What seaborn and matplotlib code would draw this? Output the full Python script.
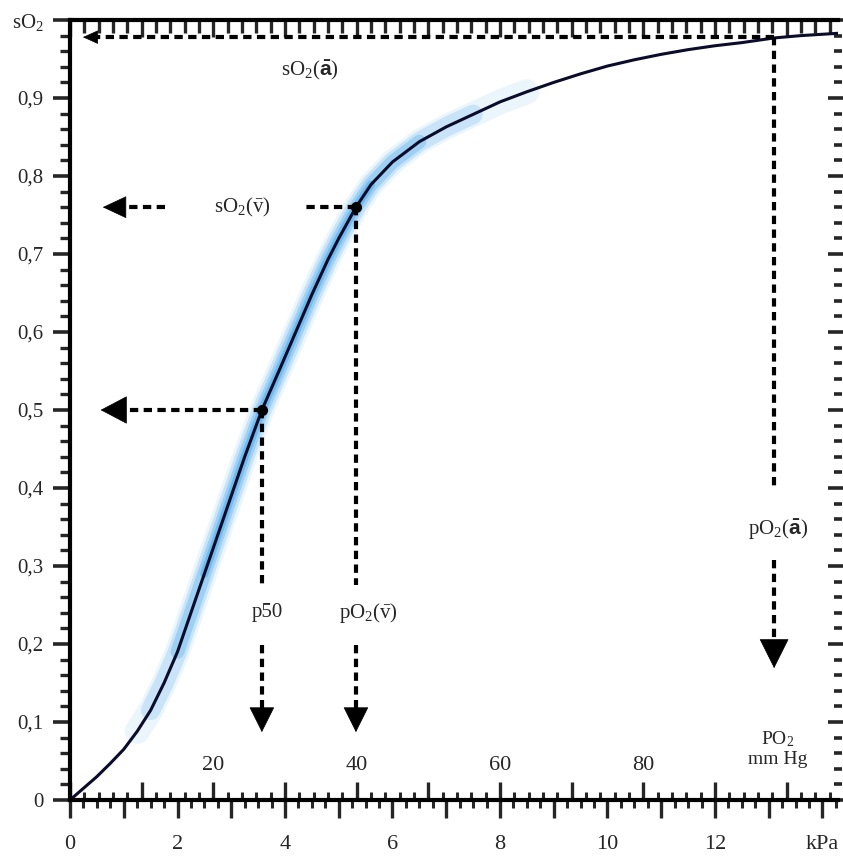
import numpy as np
import pandas as pd
import matplotlib
matplotlib.use("Agg")
import matplotlib.pyplot as plt
import seaborn as sns
from matplotlib.ticker import MultipleLocator, FixedLocator, FuncFormatter, NullFormatter

# ---------------- data ----------------
po2_kpa = [0.0, 0.25, 0.5, 0.75, 1.0, 1.25, 1.5, 1.75, 2.0, 2.25, 2.5, 2.75, 3.0,
           3.25, 3.57, 3.9, 4.2, 4.5, 4.8, 5.0, 5.32, 5.6, 6.0, 6.5, 7.0, 7.5,
           8.0, 8.5, 9.0, 9.5, 10.0, 10.5, 11.0, 11.5, 12.0, 12.5, 13.1, 13.6, 14.3]
so2 = [0.0, 0.015, 0.03, 0.047, 0.065, 0.088, 0.115, 0.15, 0.19, 0.24, 0.29, 0.34, 0.39,
       0.44, 0.50, 0.552, 0.60, 0.648, 0.693, 0.72, 0.76, 0.789, 0.818, 0.844, 0.863, 0.879,
       0.895, 0.908, 0.92, 0.931, 0.941, 0.949, 0.956, 0.962, 0.967, 0.971, 0.977, 0.980, 0.983]

ytick_vals = [0.0, 0.1, 0.2, 0.3, 0.4, 0.5, 0.6, 0.7, 0.8, 0.9, 1.0]
ytick_labels = ["0", "0,1", "0,2", "0,3", "0,4", "0,5", "0,6", "0,7", "0,8", "0,9", "sO$_2$"]
xtick_vals = [0, 1, 2, 3, 4, 5, 6, 7, 8, 9, 10, 11, 12, 13, 14]
xtick_labels = ["0", "", "2", "", "4", "", "6", "", "8", "", "10", "", "12", "", "kPa"]
mmhg_ticks = [0, 10, 20, 30, 40, 50, 60, 70, 80, 90, 100]
mmhg_labels = {20: "20", 40: "40", 60: "60", 80: "80"}
KPA_PER_MMHG = 0.133322

p50_pt = (3.57, 0.50)
ven_pt = (5.32, 0.76)
art_pt = (13.1, 0.978)

# ---------------- style ----------------
sns.set_style("ticks")
plt.rcParams["font.family"] = ["Liberation Serif", "DejaVu Serif"]
plt.rcParams["mathtext.fontset"] = "custom"
plt.rcParams["mathtext.rm"] = "Liberation Serif"
plt.rcParams["mathtext.it"] = "Liberation Serif:italic"
plt.rcParams["mathtext.bf"] = "Liberation Sans:bold"

fig = plt.figure(figsize=(8.43, 8.58), dpi=100)
ax = fig.add_axes([70 / 843, 58 / 858, 768 / 843, 780 / 858])

df = pd.DataFrame({"kpa": po2_kpa, "so2": so2})

# soft blue glow around the curve (nested, fading layers)
glow_layers = [((1.25, 8.5), "#d6ecfb", 18, 0.5),
               ((1.5, 7.5), "#a9d5f6", 14, 0.5),
               ((2.0, 6.5), "#74bdf1", 10, 0.5),
               ((2.5, 5.6), "#4aa6ea", 6, 0.5)]
for (lo, hi), col, lw, al in glow_layers:
    sub = df[(df.kpa >= lo) & (df.kpa <= hi)]
    sns.lineplot(data=sub, x="kpa", y="so2", ax=ax, color=col, lw=lw, alpha=al,
                 sort=False, solid_capstyle="round", solid_joinstyle="round")
sns.lineplot(data=df, x="kpa", y="so2", ax=ax, color="#0b0b2a", lw=2.2, sort=False,
             solid_joinstyle="round")

ax.set_xlim(0, 768 / 53.75)
ax.set_ylim(0, 1.0)
ax.set_xlabel("")
ax.set_ylabel("")

# points
ax.plot([p50_pt[0], ven_pt[0]], [p50_pt[1], ven_pt[1]], "o", color="k", ms=7, zorder=6)

dash = dict(color="k", lw=3.0, ls=(0, (2.0, 1.3)), solid_capstyle="butt", zorder=5)

# dashed guide lines
ax.plot([p50_pt[0], 1.02], [0.5, 0.5], **dash)
ax.plot([p50_pt[0], p50_pt[0]], [0.5, 0.276], **dash)
ax.plot([p50_pt[0], p50_pt[0]], [0.199, 0.118], **dash)
ax.plot([ven_pt[0], 4.37], [0.76, 0.76], **dash)
ax.plot([1.77, 1.02], [0.76, 0.76], **dash)
ax.plot([ven_pt[0], ven_pt[0]], [0.76, 0.276], **dash)
ax.plot([ven_pt[0], ven_pt[0]], [0.199, 0.118], **dash)
ax.plot([art_pt[0], 0.5], [0.978, 0.978], **dash)
ax.plot([art_pt[0], art_pt[0]], [0.978, 0.397], **dash)
ax.plot([art_pt[0], art_pt[0]], [0.308, 0.205], **dash)


def head(tip, dx, dy, length, halfw):
    ax.annotate("", xy=tip, xytext=(dx, dy), textcoords="offset points",
                arrowprops=dict(arrowstyle=f"-|>,head_length={length / 10},head_width={halfw / 10}",
                                mutation_scale=10, color="k", lw=0.5,
                                shrinkA=0, shrinkB=0), zorder=6)


head((0.57, 0.5), 18, 0, 18, 9.5)
head((0.61, 0.76), 16, 0, 16, 7.5)
head((0.24, 0.978), 10, 0, 10, 4.5)
head((p50_pt[0], 0.087), 0, 17, 17, 8.5)
head((ven_pt[0], 0.087), 0, 17, 17, 8.5)
head((art_pt[0], 0.169), 0, 20, 20, 10)

# annotation texts
tk = dict(ha="center", va="center", fontsize=15, color="#262626")
ax.text(4.47, 0.936, r"sO$_2$($\mathbf{\bar{a}}$)", **tk)
ax.text(3.2, 0.759, r"sO$_2$($\bar{\mathrm{v}}$)", **tk)
ax.text(3.68, 0.24, "p50", **tk)
ax.text(5.55, 0.24, r"pO$_2$($\bar{\mathrm{v}}$)", **tk)
ax.text(13.17, 0.346, r"pO$_2$($\mathbf{\bar{a}}$)", **tk)
tk2 = dict(tk, fontsize=14)
ax.text(13.17, 0.078, r"PO$_2$", **tk2)
ax.text(13.17, 0.052, "mm Hg", **tk2)

# ---------------- axes / ticks ----------------
for s in ["left", "bottom", "top"]:
    ax.spines[s].set_linewidth(3.0)
    ax.spines[s].set_color("k")
ax.spines["right"].set_visible(False)

ax.set_yticks(ytick_vals)
ax.set_yticklabels(ytick_labels)
ax.yaxis.set_minor_locator(MultipleLocator(0.02))
ax.set_xticks(xtick_vals)
ax.set_xticklabels(xtick_labels)
ax.xaxis.set_minor_locator(MultipleLocator(0.25))

ax.tick_params(axis="y", which="major", direction="out", length=12, width=2.6, pad=7,
               labelsize=15, left=True, right=False, labelcolor="#262626")
ax.tick_params(axis="y", which="minor", direction="out", length=7, width=2.4,
               left=True, right=False)
ax.tick_params(axis="x", which="major", direction="out", length=13, width=2.4, pad=12,
               labelsize=16, bottom=True, top=False, labelcolor="#262626")
ax.tick_params(axis="x", which="minor", direction="out", length=6, width=2.2,
               bottom=True, top=False)

to_mmhg = lambda x: np.asarray(x) / KPA_PER_MMHG
to_kpa = lambda x: np.asarray(x) * KPA_PER_MMHG

# mmHg scale on the bottom axis, ticks pointing up, labels above
sec_b = ax.secondary_xaxis(0.0, functions=(to_mmhg, to_kpa))
sec_b.set_alignment("top")
sec_b.spines["top"].set_visible(False)
sec_b.xaxis.set_major_locator(FixedLocator(mmhg_ticks))
sec_b.xaxis.set_major_formatter(FuncFormatter(lambda v, p: mmhg_labels.get(int(round(v)), "")))
sec_b.xaxis.set_minor_locator(MultipleLocator(2))
sec_b.tick_params(axis="x", which="major", direction="out", length=13, width=2.4, pad=5,
                  labelsize=16, labelcolor="#262626")
sec_b.tick_params(axis="x", which="minor", direction="out", length=6, width=2.2)

# mmHg ticks hanging from the top spine
sec_t = ax.secondary_xaxis("top", functions=(to_mmhg, to_kpa))
sec_t.spines["top"].set_visible(False)
sec_t.xaxis.set_major_locator(FixedLocator(mmhg_ticks))
sec_t.xaxis.set_major_formatter(NullFormatter())
sec_t.xaxis.set_minor_locator(MultipleLocator(2))
sec_t.tick_params(axis="x", which="major", direction="in", length=12, width=2.4)
sec_t.tick_params(axis="x", which="minor", direction="in", length=9, width=2.4)

# right-hand tick marks without a spine
sec_r = ax.secondary_yaxis("right", functions=(lambda y: y, lambda y: y))
sec_r.spines["right"].set_visible(False)
sec_r.yaxis.set_major_locator(FixedLocator(ytick_vals))
sec_r.yaxis.set_major_formatter(NullFormatter())
sec_r.yaxis.set_minor_locator(MultipleLocator(0.02))
sec_r.tick_params(axis="y", which="major", direction="inout", length=14, width=2.6)
sec_r.tick_params(axis="y", which="minor", direction="inout", length=6, width=2.6)

fig.savefig("out.png", dpi=100)
